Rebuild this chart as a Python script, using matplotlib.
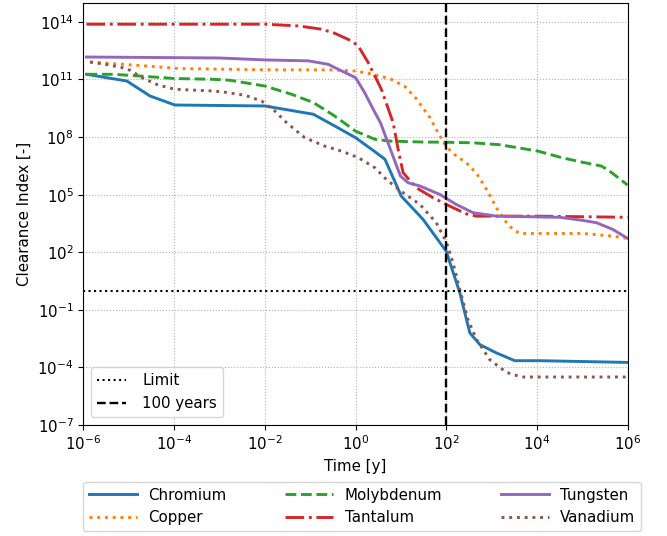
import numpy as np
import matplotlib
matplotlib.use("Agg")
import matplotlib.pyplot as plt
from matplotlib.ticker import NullLocator

# Decay curves: log10(time [y]) and log10(clearance index)
chromium_logt = [-5.93, -5.04, -4.53, -3.98, -2.0, -0.93, -0.46, 0.0, 0.45, 0.65, 1.01, 1.49,
                 2.0, 2.3, 2.52, 2.74, 3.11, 3.51, 4.06, 6.0]
chromium_logv = [11.27, 10.92, 10.14, 9.67, 9.62, 9.19, 8.58, 7.97, 7.2, 6.84, 4.92, 3.71,
                 2.05, -0.12, -2.2, -2.81, -3.25, -3.65, -3.65, -3.74]

copper_logt = [-5.85, -4.6, -3.87, -2.0, -0.46, 0.0, 0.28, 0.61, 0.79, 1.09, 1.34, 1.64, 1.82,
               2.0, 2.22, 2.44, 2.67, 2.89, 3.11, 3.33, 3.47, 3.62, 5.0, 5.67, 6.0]
copper_logv = [11.91, 11.7, 11.57, 11.5, 11.5, 11.44, 11.32, 11.13, 11.01, 10.63, 10.0, 9.01, 8.23,
               7.5, 7.01, 6.67, 6.1, 5.27, 4.3, 3.54, 3.19, 2.98, 2.98, 2.84, 2.72]

molybdenum_logt = [-5.93, -5.34, -4.75, -3.98, -3.14, -2.77, -2.0, -1.41, -0.93, -0.46, 0.0, 0.43,
                   0.77, 1.5, 2.0, 2.6, 3.18, 4.02, 4.54, 4.98, 5.42, 5.6, 6.0]
molybdenum_logv = [11.27, 11.27, 11.18, 11.05, 11.01, 10.96, 10.66, 10.23, 9.8, 9.1, 8.31, 7.88,
                   7.79, 7.74, 7.73, 7.7, 7.6, 7.27, 6.93, 6.7, 6.49, 6.23, 5.5]

tantalum_logt = [-5.93, -2.0, -1.26, -0.75, -0.46, -0.09, 0.06, 0.28, 0.57, 0.83, 0.94, 1.05,
                 1.34, 1.71, 2.08, 2.44, 2.67, 4.0, 6.0]
tantalum_logv = [13.88, 13.88, 13.79, 13.62, 13.41, 13.01, 12.75, 11.88, 10.49, 8.75, 7.36, 6.14,
                 5.36, 4.84, 4.4, 4.0, 3.88, 3.88, 3.82]

tungsten_logt = [-5.93, -3.0, -2.0, -1.04, -0.6, -0.38, 0.0, 0.2, 0.43, 0.55, 0.77, 0.99, 1.16,
                 1.42, 1.86, 2.22, 2.59, 3.11, 4.5, 4.98, 5.31, 5.67, 6.0]
tungsten_logv = [12.17, 12.12, 12.02, 11.97, 11.79, 11.53, 11.1, 10.32, 9.27, 8.75, 7.36, 5.97, 5.62,
                 5.45, 5.01, 4.49, 4.06, 3.88, 3.82, 3.67, 3.54, 3.19, 2.72]

vanadium_logt = [-5.85, -5.52, -5.15, -4.97, -4.68, -4.35, -3.98, -3.14, -2.92, -2.44, -2.07, -1.78,
                 -1.52, -1.12, -0.68, -0.31, 0.06, 0.43, 0.68, 1.05, 1.42, 1.78, 2.0, 2.15, 2.3,
                 2.48, 2.67, 2.96, 3.33, 3.66, 6.0]
vanadium_logv = [11.91, 11.79, 11.62, 11.48, 11.06, 10.71, 10.49, 10.4, 10.35, 10.18, 9.88, 9.36,
                 8.75, 7.97, 7.53, 7.27, 6.93, 6.4, 5.79, 5.1, 4.49, 3.54, 2.55, 1.45, 0.05,
                 -1.51, -2.55, -3.6, -4.26, -4.5, -4.5]

clearance_limit = 1.0
reference_time = 100.0

series = [
    ("Chromium", chromium_logt, chromium_logv, "C0", "-"),
    ("Copper", copper_logt, copper_logv, "C1", ":"),
    ("Molybdenum", molybdenum_logt, molybdenum_logv, "C2", "--"),
    ("Tantalum", tantalum_logt, tantalum_logv, "C3", "-."),
    ("Tungsten", tungsten_logt, tungsten_logv, "C4", "-"),
    ("Vanadium", vanadium_logt, vanadium_logv, "C5", ":"),
]

FS = 10.8
plt.rcParams["font.family"] = ["DejaVu Sans"]
plt.rcParams["font.size"] = FS

fig = plt.figure(figsize=(6.67, 5.36), dpi=100)
ax = fig.add_axes([83.3 / 667, 1 - 425 / 536, (627.7 - 83.3) / 667, (425 - 2.7) / 536])

element_lines = []
for name, lt, lv, color, ls in series:
    t = np.power(10.0, lt)
    v = np.power(10.0, lv)
    (ln,) = ax.plot(t, v, color=color, ls=ls, lw=2.1, label=name)
    element_lines.append(ln)

h_limit = ax.axhline(clearance_limit, color="k", ls=":", lw=1.5, label="Limit")
h_ref = ax.axvline(reference_time, color="k", ls="--", lw=1.7, label="100 years")

ax.set_xscale("log")
ax.set_yscale("log")
ax.set_xlim(1e-6, 1e6)
ax.set_ylim(1e-7, 1e15)
ax.set_xticks([10.0 ** k for k in range(-6, 7, 2)])
ax.set_yticks([10.0 ** k for k in range(-7, 15, 3)])
ax.xaxis.set_minor_locator(NullLocator())
ax.yaxis.set_minor_locator(NullLocator())
ax.grid(True, which="major", ls=":", color="#b0b0b0", lw=0.8)

ax.set_xlabel("Time [y]")
ax.set_ylabel("Clearance Index [-]")

ax.legend(handles=[h_limit, h_ref], loc="lower left", bbox_to_anchor=(0.009, 0.012),
          fontsize=FS, handlelength=1.9, handletextpad=1.1, borderaxespad=0.2)
fig.legend(handles=element_lines, ncol=3, loc="upper left",
           bbox_to_anchor=(83.3 / 667, 1 - 481.7 / 536), fontsize=FS,
           handlelength=3.2, handletextpad=0.75, columnspacing=3.9, borderaxespad=0.0)

fig.savefig("out.png", dpi=100)
